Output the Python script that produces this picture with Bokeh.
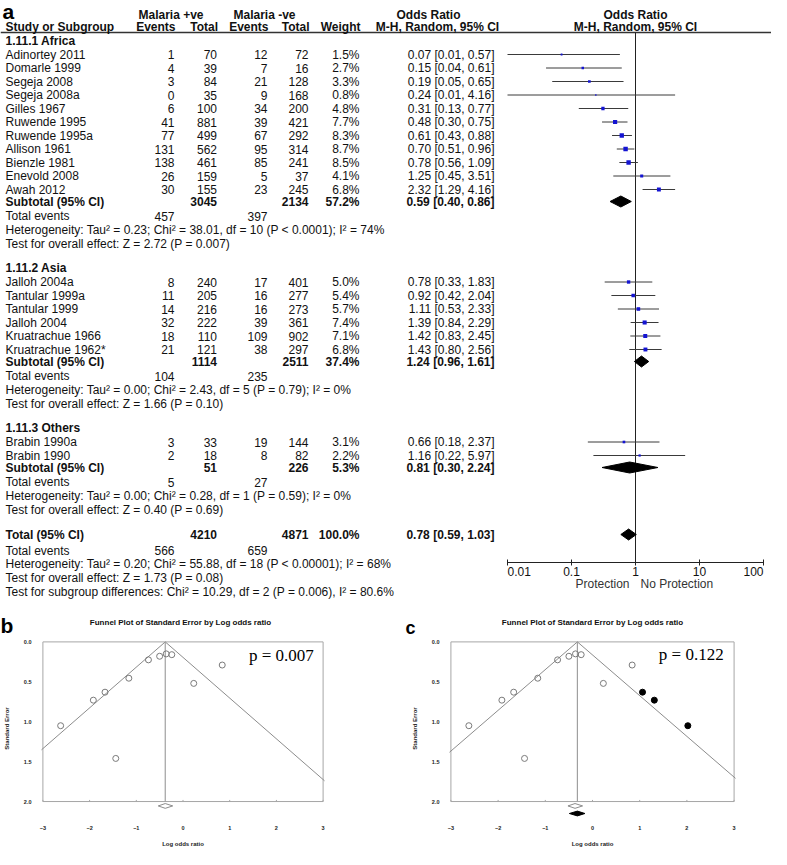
import math
from bokeh.plotting import figure
from bokeh.models import Range1d, LogScale, FixedTicker, PrintfTickFormatter
from bokeh.layouts import column, row
from bokeh.core.properties import value
from bokeh.embed import file_html
from bokeh.resources import INLINE

# ---------------------------------------------------------------- data
group_names = ["1.11.1 Africa", "1.11.2 Asia", "1.11.3 Others"]

africa_study = ["Adinortey 2011", "Domarle 1999", "Segeja 2008", "Segeja 2008a", "Gilles 1967",
                "Ruwende 1995", "Ruwende 1995a", "Allison 1961", "Bienzle 1981", "Enevold 2008", "Awah 2012"]
africa_ev_pos = [1, 4, 3, 0, 6, 41, 77, 131, 138, 26, 30]
africa_tot_pos = [70, 39, 84, 35, 100, 881, 499, 562, 461, 159, 155]
africa_ev_neg = [12, 7, 21, 9, 34, 39, 67, 95, 85, 5, 23]
africa_tot_neg = [72, 16, 128, 168, 200, 421, 292, 314, 241, 37, 245]
africa_weight = [1.5, 2.7, 3.3, 0.8, 4.8, 7.7, 8.3, 8.7, 8.5, 4.1, 6.8]
africa_or = [0.07, 0.15, 0.19, 0.24, 0.31, 0.48, 0.61, 0.70, 0.78, 1.25, 2.32]
africa_lo = [0.01, 0.04, 0.05, 0.01, 0.13, 0.30, 0.43, 0.51, 0.56, 0.45, 1.29]
africa_hi = [0.57, 0.61, 0.65, 4.16, 0.77, 0.75, 0.88, 0.96, 1.09, 3.51, 4.16]

asia_study = ["Jalloh 2004a", "Tantular 1999a", "Tantular 1999", "Jalloh 2004", "Kruatrachue 1966", "Kruatrachue 1962*"]
asia_ev_pos = [8, 11, 14, 32, 18, 21]
asia_tot_pos = [240, 205, 216, 222, 110, 121]
asia_ev_neg = [17, 16, 16, 39, 109, 38]
asia_tot_neg = [401, 277, 273, 361, 902, 297]
asia_weight = [5.0, 5.4, 5.7, 7.4, 7.1, 6.8]
asia_or = [0.78, 0.92, 1.11, 1.39, 1.42, 1.43]
asia_lo = [0.33, 0.42, 0.53, 0.84, 0.83, 0.80]
asia_hi = [1.83, 2.04, 2.33, 2.29, 2.45, 2.56]

others_study = ["Brabin 1990a", "Brabin 1990"]
others_ev_pos = [3, 2]
others_tot_pos = [33, 18]
others_ev_neg = [19, 8]
others_tot_neg = [144, 82]
others_weight = [3.1, 2.2]
others_or = [0.66, 1.16]
others_lo = [0.18, 0.22]
others_hi = [2.37, 5.97]

sub_tot_pos = [3045, 1114, 51]
sub_tot_neg = [2134, 2511, 226]
sub_weight = [57.2, 37.4, 5.3]
sub_or = [0.59, 1.24, 0.81]
sub_lo = [0.40, 0.96, 0.30]
sub_hi = [0.86, 1.61, 2.24]
sub_events_pos = [457, 104, 5]
sub_events_neg = [397, 235, 27]
sub_heterogeneity = [
    "Heterogeneity: Tau\u00b2 = 0.23; Chi\u00b2 = 38.01, df = 10 (P < 0.0001); I\u00b2 = 74%",
    "Heterogeneity: Tau\u00b2 = 0.00; Chi\u00b2 = 2.43, df = 5 (P = 0.79); I\u00b2 = 0%",
    "Heterogeneity: Tau\u00b2 = 0.00; Chi\u00b2 = 0.28, df = 1 (P = 0.59); I\u00b2 = 0%",
]
sub_overall_effect = [
    "Test for overall effect: Z = 2.72 (P = 0.007)",
    "Test for overall effect: Z = 1.66 (P = 0.10)",
    "Test for overall effect: Z = 0.40 (P = 0.69)",
]

total_tot_pos = 4210
total_tot_neg = 4871
total_weight = 100.0
total_or = 0.78
total_lo = 0.59
total_hi = 1.03
total_events_pos = 566
total_events_neg = 659
total_heterogeneity = "Heterogeneity: Tau\u00b2 = 0.20; Chi\u00b2 = 55.88, df = 18 (P < 0.00001); I\u00b2 = 68%"
total_overall_effect = "Test for overall effect: Z = 1.73 (P = 0.08)"
subgroup_difference = "Test for subgroup differences: Chi\u00b2 = 10.29, df = 2 (P = 0.006), I\u00b2 = 80.6%"

or_ticks = [0.01, 0.1, 1, 10, 100]
or_tick_labels = ["0.01", "0.1", "1", "10", "100"]

# funnel plots (Africa subgroup): log odds ratio vs standard error
funnel_logor = [-2.62, -1.92, -1.67, -1.44, -1.16, -0.74, -0.50, -0.36, -0.24, 0.23, 0.84]
funnel_se = [1.05, 0.73, 0.63, 1.46, 0.455, 0.225, 0.18, 0.15, 0.16, 0.52, 0.29]
imputed_logor = [1.06, 1.31, 2.02]
imputed_se = [0.63, 0.73, 1.05]
funnel_b_center = -0.38
funnel_c_center = -0.32
funnel_b_diamond = [-0.53, -0.38, -0.22]
funnel_c_diamond_obs = [-0.52, -0.37, -0.21]
funnel_c_diamond_adj = [-0.49, -0.32, -0.16]
funnel_b_p = "p = 0.007"
funnel_c_p = "p = 0.122"
funnel_xticks = [-3, -2, -1, 0, 1, 2, 3]
funnel_yticks = [0.0, 0.5, 1.0, 1.5, 2.0]
funnel_z = 1.96
FUNNEL_TITLE = "Funnel Plot of Standard Error by Log odds ratio"
panel_letters = ["a", "b", "c"]

# ---------------------------------------------------------------- layout / style
W = 771
H_TOP = 638
FUNNEL_H = 849 - H_TOP
SANS = value("Liberation Sans")
FS = "12px"
TXT = "#111111"

FB_W, FB_LEFT, FB_FRAME = 385, 36, 288
FC_W, FC_LEFT, FC_FRAME = 386, 64, 286

X_STUDY, X_EVP, X_TOTP, X_EVN, X_TOTN, X_WT, X_ORTXT = 5, 174, 216.5, 267, 308, 359, 494
OR_ONE_PX = 635.0
PX_PER_DECADE = 64.0
Y_H1, Y_H2, Y_LINE = 14, 26, 32
AXIS_Y = 562

p = figure(width=W, height=H_TOP, x_range=Range1d(0, W), y_range=Range1d(H_TOP, 0),
           output_backend="svg", toolbar_location=None, x_axis_location=None, y_axis_location=None,
           min_border=0, outline_line_color=None)
p.grid.grid_line_color = None
p.extra_x_ranges = {"or": Range1d(10 ** (-OR_ONE_PX / PX_PER_DECADE), 10 ** ((W - OR_ONE_PX) / PX_PER_DECADE))}
p.extra_x_scales = {"or": LogScale()}

texts = {}


def put(x, y, s, align="left", bold=False):
    d = texts.setdefault((align, bold), {"x": [], "y": [], "text": []})
    d["x"].append(x)
    d["y"].append(y)
    d["text"].append(s)


def fmt_or(e, l, h):
    return f"{e:.2f} [{l:.2f}, {h:.2f}]"


# headers
put(138, Y_H1, "Malaria +ve", bold=True)
put(233, Y_H1, "Malaria -ve", bold=True)
put(428, Y_H1, "Odds Ratio", "center", True)
put(X_STUDY, Y_H2, "Study or Subgroup", bold=True)
put(X_EVP + 1, Y_H2, "Events", "right", True)
put(X_TOTP + 1, Y_H2, "Total", "right", True)
put(X_EVN + 1, Y_H2, "Events", "right", True)
put(X_TOTN + 1, Y_H2, "Total", "right", True)
put(X_WT + 1, Y_H2, "Weight", "right", True)
put(437, Y_H2, "M-H, Random, 95% CI", "center", True)

groups = [
    (africa_study, africa_ev_pos, africa_tot_pos, africa_ev_neg, africa_tot_neg, africa_weight, africa_or, africa_lo, africa_hi),
    (asia_study, asia_ev_pos, asia_tot_pos, asia_ev_neg, asia_tot_neg, asia_weight, asia_or, asia_lo, asia_hi),
    (others_study, others_ev_pos, others_tot_pos, others_ev_neg, others_tot_neg, others_weight, others_or, others_lo, others_hi),
]

st_y, st_or, st_lo, st_hi, st_w = [], [], [], [], []
dm_xs, dm_ys = [], []
DH = 5.5

y = 40.0
for gi, g in enumerate(groups):
    names, evp, totp, evn, totn, wt, ors, los, his = g
    if gi > 0:
        y += 24.5
    put(X_STUDY, y, group_names[gi], bold=True)
    y += 14
    last = y
    for i, s in enumerate(names):
        put(X_STUDY, y, s)
        put(X_EVP, y, str(evp[i]), "right")
        put(X_TOTP, y, str(totp[i]), "right")
        put(X_EVN, y, str(evn[i]), "right")
        put(X_TOTN, y, str(totn[i]), "right")
        put(X_WT, y, f"{wt[i]:.1f}%", "right")
        put(X_ORTXT, y, fmt_or(ors[i], los[i], his[i]), "right")
        st_y.append(y); st_or.append(ors[i]); st_lo.append(los[i]); st_hi.append(his[i]); st_w.append(wt[i])
        last = y
        y += 13.5
    y = last + 12
    put(X_STUDY, y, "Subtotal (95% CI)", bold=True)
    put(X_TOTP, y, str(sub_tot_pos[gi]), "right", True)
    put(X_TOTN, y, str(sub_tot_neg[gi]), "right", True)
    put(X_WT, y, f"{sub_weight[gi]:.1f}%", "right", True)
    put(X_ORTXT, y, fmt_or(sub_or[gi], sub_lo[gi], sub_hi[gi]), "right", True)
    dm_xs.append([sub_lo[gi], sub_or[gi], sub_hi[gi], sub_or[gi]])
    dm_ys.append([y, y - DH, y, y + DH])
    y += 14.5
    put(X_STUDY, y, "Total events")
    put(X_EVP, y, str(sub_events_pos[gi]), "right")
    put(X_EVN, y, str(sub_events_neg[gi]), "right")
    y += 14
    put(X_STUDY, y, sub_heterogeneity[gi])
    y += 13.5
    put(X_STUDY, y, sub_overall_effect[gi])

y += 25
put(X_STUDY, y, "Total (95% CI)", bold=True)
put(X_TOTP, y, str(total_tot_pos), "right", True)
put(X_TOTN, y, str(total_tot_neg), "right", True)
put(X_WT, y, f"{total_weight:.1f}%", "right", True)
put(X_ORTXT, y, fmt_or(total_or, total_lo, total_hi), "right", True)
dm_xs.append([total_lo, total_or, total_hi, total_or])
dm_ys.append([y, y - DH, y, y + DH])
y += 16
put(X_STUDY, y, "Total events")
put(X_EVP, y, str(total_events_pos), "right")
put(X_EVN, y, str(total_events_neg), "right")
y += 13
put(X_STUDY, y, total_heterogeneity)
y += 14
put(X_STUDY, y, total_overall_effect)
y += 14
put(X_STUDY, y, subgroup_difference)

# panel letters and funnel titles (drawn in the page-level figure)
p.text(x=[2], y=[11], text=[panel_letters[0]], text_font=SANS, text_font_size="21px", text_font_style="bold",
       text_baseline="alphabetic", text_color="#000000")
p.text(x=[0], y=[H_TOP - 13], text=[panel_letters[1]], text_font=SANS, text_font_size="21px",
       text_font_style="bold", text_baseline="middle", text_color="#000000")
p.text(x=[FB_W + 20], y=[H_TOP - 11], text=[panel_letters[2]], text_font=SANS, text_font_size="18px",
       text_font_style="bold", text_baseline="middle", text_color="#000000")
p.text(x=[FB_LEFT + FB_FRAME / 2, FB_W + FC_LEFT + FC_FRAME / 2], y=[622, 622], text=[FUNNEL_TITLE] * 2,
       text_font=SANS, text_font_size="8px", text_font_style="bold", text_align="center",
       text_baseline="middle", text_color="#111111")

# header rule
p.segment(x0=[0], x1=[W], y0=[Y_LINE], y1=[Y_LINE], line_color="#333333", line_width=1.3)

for (align, bold), d in texts.items():
    p.text(x=d["x"], y=d["y"], text=d["text"], text_font=SANS, text_font_size=FS,
           text_font_style="bold" if bold else "normal", text_align=align, text_baseline="middle",
           text_color=TXT)

# ---- forest plot (log odds ratio scale)
p.text(x=[1, 1], y=[Y_H1, Y_H2], text=["Odds Ratio", "M-H, Random, 95% CI"], x_range_name="or",
       text_font=SANS, text_font_size=FS, text_font_style="bold", text_align="center",
       text_baseline="middle", text_color=TXT)
p.segment(x0=[1], x1=[1], y0=[Y_LINE], y1=[AXIS_Y], x_range_name="or", line_color="#222222", line_width=1)
p.segment(x0=st_lo, x1=st_hi, y0=st_y, y1=st_y, x_range_name="or", line_color="#3a3a3a", line_width=1)
p.scatter(x=st_or, y=st_y, size=[1.5 * math.sqrt(w) for w in st_w], marker="square",
          fill_color="#1414d2", line_color=None, x_range_name="or")
p.patches(xs=dm_xs, ys=dm_ys, x_range_name="or", fill_color="#000000", line_color="#000000")

# forest axis
p.segment(x0=[or_ticks[0]], x1=[or_ticks[-1]], y0=[AXIS_Y], y1=[AXIS_Y], x_range_name="or",
          line_color="#222222", line_width=1)
p.segment(x0=or_ticks, x1=or_ticks, y0=[AXIS_Y - 3] * len(or_ticks), y1=[AXIS_Y + 3] * len(or_ticks),
          x_range_name="or", line_color="#222222", line_width=1)
tick_align = ["left"] + ["center"] * (len(or_ticks) - 2) + ["right"]
for t, lab, al in zip(or_ticks, or_tick_labels, tick_align):
    p.text(x=[t], y=[AXIS_Y + 9], text=[lab], x_range_name="or", text_font=SANS, text_font_size=FS,
           text_align=al, text_baseline="middle", text_color=TXT)
p.text(x=[1], y=[AXIS_Y + 21], text=["Protection"], x_range_name="or", x_offset=-6, text_font=SANS,
       text_font_size=FS, text_align="right", text_baseline="middle", text_color="#333333")
p.text(x=[1], y=[AXIS_Y + 21], text=["No Protection"], x_range_name="or", x_offset=5, text_font=SANS,
       text_font_size=FS, text_align="left", text_baseline="middle", text_color="#333333")

# ---------------------------------------------------------------- funnel plots


def make_funnel(width, left_b, frame_w, center, diamonds, p_text, p_x, p_y, show_imputed):
    pad = 0.03
    f = figure(width=width, height=FUNNEL_H,
               x_range=Range1d(funnel_xticks[0] - pad, funnel_xticks[-1] + pad),
               y_range=Range1d(2.2, funnel_yticks[0] - pad),
               output_backend="svg", toolbar_location=None,
               min_border_left=left_b, min_border_right=width - left_b - frame_w,
               min_border_top=1, min_border_bottom=27, outline_line_color=None)
    f.grid.grid_line_color = None

    f.xaxis.ticker = FixedTicker(ticks=funnel_xticks)
    f.yaxis.ticker = FixedTicker(ticks=funnel_yticks)
    f.yaxis.formatter = PrintfTickFormatter(format="%.1f")
    for ax in (f.xaxis[0], f.yaxis[0]):
        ax.axis_line_color = None
        ax.major_tick_line_color = None
        ax.minor_tick_line_color = None
        ax.major_label_text_font = "Liberation Sans"
        ax.major_label_text_font_size = "5.5px"
        ax.major_label_text_font_style = "bold"
        ax.major_label_text_color = "#222222"
        ax.axis_label_text_font = "Liberation Sans"
        ax.axis_label_text_font_size = "6px"
        ax.axis_label_text_font_style = "bold"
        ax.axis_label_text_color = "#222222"
    f.xaxis.axis_label = "Log odds ratio"
    f.yaxis.axis_label = "Standard Error"
    f.xaxis.major_label_standoff = 2
    f.xaxis.axis_label_standoff = 8
    f.yaxis.major_label_standoff = 4
    f.yaxis.axis_label_standoff = 11
    f.yaxis.major_label_orientation = "horizontal"

    se_max = funnel_yticks[-1]
    f.quad(left=[funnel_xticks[0]], right=[funnel_xticks[-1]], top=[funnel_yticks[0]], bottom=[se_max],
           fill_color=None, line_color="#a6a6a6", line_width=1)
    nt = len(funnel_xticks)
    f.segment(x0=funnel_xticks, x1=funnel_xticks, y0=[se_max] * nt, y1=[se_max - 0.02] * nt,
              line_color="#a6a6a6")
    f.segment(x0=[center, center], y0=[0, 0],
              x1=[center - funnel_z * se_max, center + funnel_z * se_max], y1=[se_max, se_max],
              line_color="#8c8c8c", line_width=1)
    f.segment(x0=[center], y0=[0], x1=[center], y1=[se_max], line_color="#a0a0a0", line_width=1.2)

    f.scatter(x=funnel_logor, y=funnel_se, marker="circle", size=6, fill_color=None,
              line_color="#7a7a7a", line_width=1)
    if show_imputed:
        f.scatter(x=imputed_logor, y=imputed_se, marker="circle", size=6, fill_color="#000000",
                  line_color="#000000")

    dyh = 0.03
    for (lo, mid, hi), yd, filled in diamonds:
        f.patches(xs=[[lo, mid, hi, mid]], ys=[[yd, yd - dyh, yd, yd + dyh]],
                  fill_color="#000000" if filled else "#ffffff",
                  line_color="#000000" if filled else "#8c8c8c", line_width=1)

    f.text(x=[p_x], y=[p_y], text=[p_text], text_font=value("Liberation Serif"), text_font_size="17px",
           text_align="right", text_baseline="middle", text_color="#000000")
    return f


fb = make_funnel(FB_W, FB_LEFT, FB_FRAME, funnel_b_center,
                 [(funnel_b_diamond, 2.055, False)], funnel_b_p, 2.8, 0.17, False)
fc = make_funnel(FC_W, FC_LEFT, FC_FRAME, funnel_c_center,
                 [(funnel_c_diamond_obs, 2.055, False), (funnel_c_diamond_adj, 2.15, True)],
                 funnel_c_p, 2.78, 0.16, True)

layout = column(p, row(fb, fc))
open("out.html", "w").write(file_html(layout, INLINE))
